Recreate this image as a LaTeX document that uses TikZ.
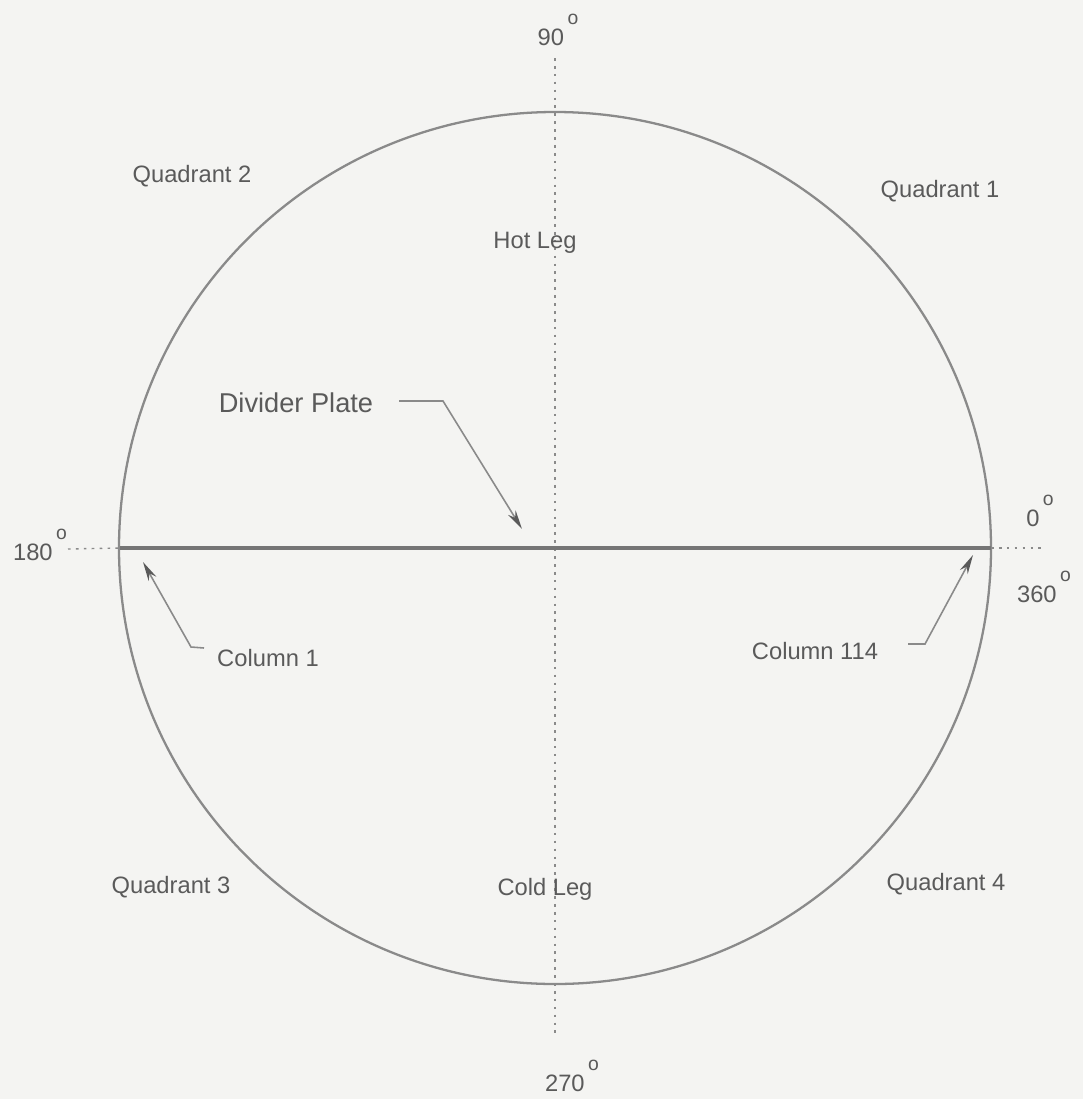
\documentclass[tikz,border=0pt]{standalone}
\usepackage{fontspec}
\setmainfont{Liberation Sans}
\usetikzlibrary{arrows.meta}
\definecolor{bg}{HTML}{F4F4F2}
\definecolor{ink}{HTML}{5A5A5A}
\definecolor{linec}{HTML}{8A8A8A}
\tikzset{
  lbl/.style={text=ink, font=\fontsize{13.5}{16}\selectfont, inner sep=0pt},
  deg/.style={text=ink, font=\fontsize{13.5}{16}\selectfont, inner sep=0pt},
  axisdot/.style={draw=linec, line width=0.8pt, dash pattern=on 1.5pt off 3pt},
  leader/.style={draw=linec, line width=0.9pt, -{Stealth[length=11pt,width=5pt,color=ink]}},
}
\newcommand{\dg}[1]{#1\kern2pt\raisebox{1.65ex}{\fontsize{11}{12}\selectfont o}}
\begin{document}
\begin{tikzpicture}[x=0.02cm,y=-0.02cm]
\fill[bg] (0,0) rectangle (1083,1099);
\useasboundingbox (0,0) rectangle (1083,1099);

% centre and axes
\coordinate (C) at (555,548);
\coordinate (vtop) at (555,58);
\coordinate (vbot) at (555,1035);
\coordinate (hl) at (68,549);
\coordinate (hr) at (1042,548);
\coordinate (pl) at (120,548);
\coordinate (pr) at (991,548);

\draw[axisdot] (vtop) -- (vbot);
\draw[axisdot] (hl) -- (pl);
\draw[axisdot] (pr) -- (hr);

% circle
\draw[linec, line width=1.3pt] (C) circle[radius=436];

% divider plate
\draw[draw=linec!85!black, line width=2.6pt] (pl) -- (pr);

% angle labels
\node[deg] (d90) at (558,30) {\dg{90}};
\node[deg] (d180) at (40,545) {\dg{180}};
\node[deg] (d0) at (1040,511) {\dg{0}};
\node[deg] (d360) at (1044,587) {\dg{360}};
\node[deg] (d270) at (572,1076) {\dg{270}};

% quadrant labels
\node[lbl] (q2) at (192,176) {Quadrant 2};
\node[lbl] (q1) at (940,191) {Quadrant 1};
\node[lbl] (q3) at (171,887) {Quadrant 3};
\node[lbl] (q4) at (946,884) {Quadrant 4};
\node[lbl] (hot) at (535,243) {Hot Leg};
\node[lbl] (cold) at (545,889) {Cold Leg};

% divider plate label
\node[lbl, font=\fontsize{15.5}{18}\selectfont] (dp) at (296,403) {Divider Plate};
\coordinate (dpa) at (399,401);
\coordinate (dpb) at (443,401);
\coordinate (dpt) at (522,529);
\draw[leader] (dpa) -- (dpb) -- (dpt);

% column 1
\node[lbl] (c1) at (268,658) {Column 1};
\coordinate (c1a) at (204,648);
\coordinate (c1b) at (191,647);
\coordinate (c1t) at (143,562);
\draw[leader] (c1a) -- (c1b) -- (c1t);

% column 114
\node[lbl] (c114) at (815,651) {Column 114};
\coordinate (c2a) at (908,644);
\coordinate (c2b) at (925,644);
\coordinate (c2t) at (973,555);
\draw[leader] (c2a) -- (c2b) -- (c2t);
\end{tikzpicture}
\end{document}
